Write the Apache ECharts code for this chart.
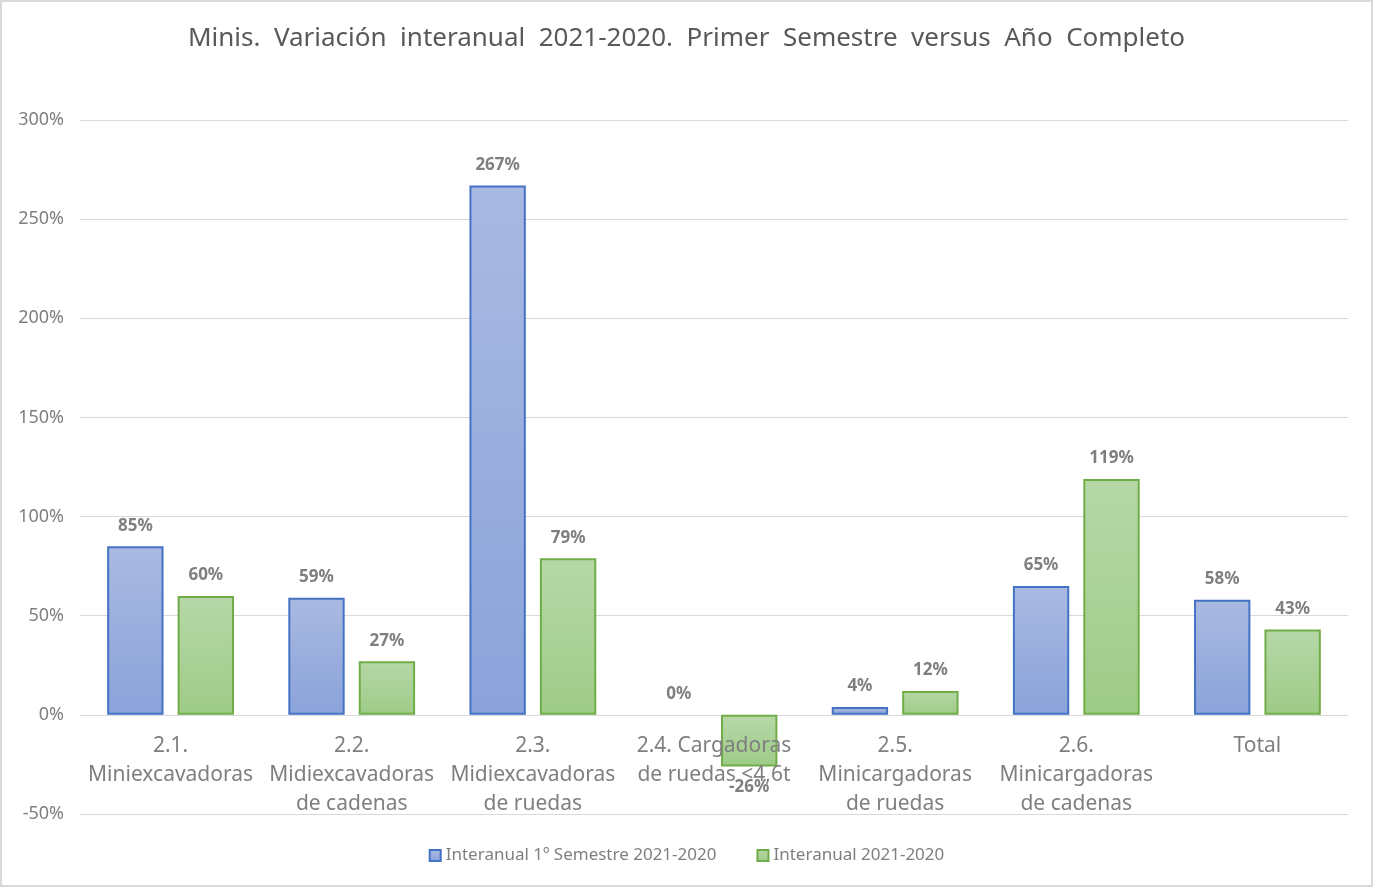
<!DOCTYPE html>
<html>
<head>
<meta charset="utf-8">
<script src="https://cdn.jsdelivr.net/npm/echarts@6/dist/echarts.min.js"></script>
<style>
  html, body { margin: 0; padding: 0; background: #fff; }
  #chart {
    width: 1369px;
    height: 883px;
    border: 2px solid #d9d9d9;
  }
</style>
</head>
<body>
<div id="chart"></div>
<script>
// datos
const categories = [
  "2.1.\nMiniexcavadoras",
  "2.2.\nMidiexcavadoras\nde cadenas",
  "2.3.\nMidiexcavadoras\nde ruedas",
  "2.4. Cargadoras\nde ruedas <4,6t",
  "2.5.\nMinicargadoras\nde ruedas",
  "2.6.\nMinicargadoras\nde cadenas",
  "Total"
];
const semestre = [85, 59, 267, 0, 4, 65, 58];
const anual = [60, 27, 79, -26, 12, 119, 43];
const seriesNames = ["Interanual 1º Semestre 2021-2020", "Interanual 2021-2020"];

const FONT = "'Noto Sans', 'Open Sans', sans-serif";
const Y_MIN = -50, Y_MAX = 300, Y_STEP = 50;
const GRID_TOP = 118, GRID_BOTTOM = 71;

// etiqueta debajo de la barra si el valor es negativo; sin borde si vale 0
const withLabels = (arr) => arr.map(v => ({
  value: v,
  label: { position: v < 0 ? "bottom" : "top" },
  itemStyle: v === 0 ? { borderWidth: 0 } : undefined
}));

const el = document.getElementById("chart");
const chart = echarts.init(el);

// desplazar el eje x hasta la linea del 0%
const plotH = el.clientHeight - GRID_TOP - GRID_BOTTOM;
const zeroOffset = -plotH * (0 - Y_MIN) / (Y_MAX - Y_MIN);

const barLabel = {
  show: true,
  distance: 12,
  formatter: p => p.value + "%",
  color: "#7f7f7f",
  fontWeight: "bold",
  fontSize: 17,
  fontFamily: FONT
};

chart.setOption({
  animation: false,
  title: {
    text: "Minis.  Variación  interanual  2021-2020.  Primer  Semestre  versus  Año  Completo",
    left: "center",
    top: 19,
    textStyle: { color: "#595959", fontSize: 26, fontWeight: "normal", fontFamily: FONT }
  },
  legend: {
    data: seriesNames,
    bottom: 16,
    left: "center",
    icon: "rect",
    itemWidth: 11,
    itemHeight: 11,
    itemGap: 40,
    textStyle: { color: "#7f7f7f", fontSize: 17, fontFamily: FONT }
  },
  grid: {
    left: 78, right: 23, top: GRID_TOP, bottom: GRID_BOTTOM,
    containLabel: false,
    outerBoundsMode: "none"
  },
  xAxis: {
    type: "category",
    data: categories,
    offset: zeroOffset,
    z: 5,
    axisLine: { show: false, onZero: false },
    axisTick: { show: false },
    axisLabel: {
      color: "#7f7f7f",
      fontSize: 21,
      lineHeight: 29,
      margin: 17,
      interval: 0,
      fontFamily: FONT
    }
  },
  yAxis: {
    type: "value",
    min: Y_MIN,
    max: Y_MAX,
    interval: Y_STEP,
    axisLine: { show: false },
    axisTick: { show: false },
    splitLine: { lineStyle: { color: "#d9d9d9" } },
    axisLabel: {
      formatter: "{value}%",
      color: "#7f7f7f",
      fontSize: 18,
      margin: 16,
      fontFamily: FONT
    }
  },
  series: [
    {
      name: seriesNames[0],
      type: "bar",
      data: withLabels(semestre),
      barGap: "25%",
      barCategoryGap: "30%",
      itemStyle: {
        color: new echarts.graphic.LinearGradient(0, 0, 0, 1, [
          { offset: 0, color: "#aab9e1" },
          { offset: 1, color: "#8aa3da" }
        ]),
        borderColor: "#4472c4",
        borderWidth: 2
      },
      label: barLabel
    },
    {
      name: seriesNames[1],
      type: "bar",
      data: withLabels(anual),
      itemStyle: {
        color: new echarts.graphic.LinearGradient(0, 0, 0, 1, [
          { offset: 0, color: "#b6d8a8" },
          { offset: 1, color: "#9ecb87" }
        ]),
        borderColor: "#70ad47",
        borderWidth: 2
      },
      label: barLabel
    }
  ]
});
</script>
</body>
</html>
